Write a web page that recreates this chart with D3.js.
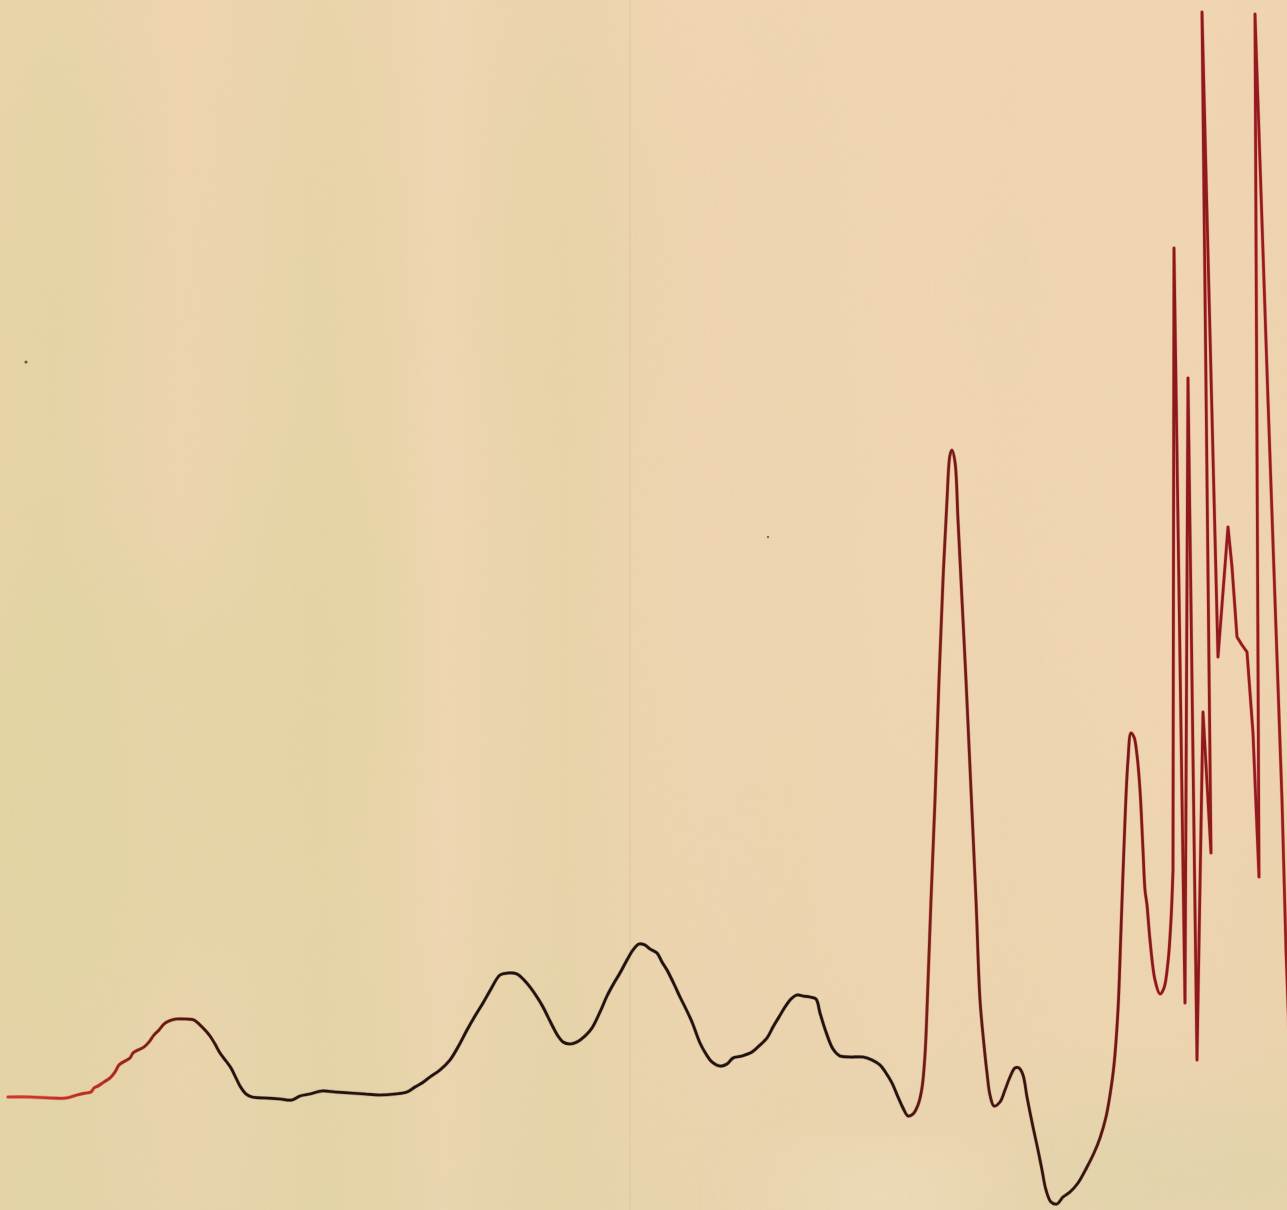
<!DOCTYPE html>
<html>
<head>
<meta charset="utf-8">
<script src="https://cdn.jsdelivr.net/npm/d3@7/dist/d3.min.js"></script>
<style>
  html, body { margin: 0; padding: 0; background: #ecd4ad; overflow: hidden; }
  svg { display: block; }
</style>
</head>
<body>
<svg id="chart"></svg>
<script>
// Recorder trace: elution time (min) and detector signal (chart divisions)
const time = [
  0.8, 3.0, 5.0, 6.6, 7.7, 8.6, 9.1, 9.4, 9.8, 10.4, 11.0, 11.5, 11.9, 12.5, 13.0, 13.3, 13.8, 14.4, 14.9, 15.4,
  15.9, 16.4, 16.9, 17.6, 18.6, 19.4, 20.0, 20.5, 21.0, 21.5, 22.0, 22.6, 23.1, 23.6, 24.0, 24.6, 25.2, 26.5, 28.0, 29.2,
  30.0, 31.0, 32.2, 33.5, 35.0, 36.5, 38.0, 39.5, 40.7, 41.5, 42.2, 43.0, 44.0, 45.0, 45.8, 46.7, 47.5, 48.3, 49.1, 50.0,
  50.8, 51.7, 52.4, 53.0, 53.7, 54.3, 54.8, 55.3, 55.8, 56.3, 57.0, 57.7, 58.5, 59.2, 60.0, 60.7, 61.4, 62.0, 62.7, 63.3,
  63.9, 64.5, 65.0, 65.7, 66.2, 66.7, 67.4, 68.0, 68.6, 69.2, 70.0, 70.6, 71.2, 72.0, 72.7, 73.3, 74.2, 75.2, 76.0, 76.7,
  77.3, 77.9, 78.5, 79.1, 79.7, 80.3, 81.0, 81.6, 82.0, 82.6, 83.3, 84.0, 85.0, 86.3, 87.2, 88.0, 88.6, 89.2, 89.8, 90.3,
  90.8, 91.3, 91.8, 92.2, 92.5, 92.7, 93.1, 93.5, 93.9, 94.3, 94.7, 95.0, 95.2, 95.5, 95.8, 96.2, 96.6, 97.1, 97.6, 98.0,
  98.4, 98.7, 99.0, 99.4, 100.0, 100.5, 101.0, 101.5, 101.9, 102.3, 102.7, 103.3, 103.8, 104.2, 104.6, 105.1, 105.7, 106.3, 107.0, 107.8,
  108.7, 109.4, 110.0, 110.6, 111.0, 111.4, 111.8, 112.1, 112.5, 112.8, 113.1, 113.4, 113.7, 114.0, 114.3, 114.5, 114.7, 115.0, 115.5, 116.0,
  116.4, 116.8, 117.1, 117.3, 117.4, 118.5, 118.8, 119.7, 120.3, 121.1, 120.2, 121.8, 122.8, 123.2, 123.7, 124.2, 124.7, 125.3, 125.9, 125.5,
  126.8, 128.2, 128.6, 129.0
];
const signal = [
  0, 0, -0.1, -0.1, 0.2, 0.4, 0.5, 0.9, 1.1, 1.5, 1.9, 2.5, 3.2, 3.6, 3.9, 4.4, 4.7, 5.0, 5.5, 6.2,
  6.7, 7.3, 7.6, 7.8, 7.8, 7.7, 7.2, 6.7, 6.1, 5.3, 4.4, 3.6, 2.9, 1.9, 1.1, 0.3, 0, -0.1, -0.2, -0.3,
  0.1, 0.3, 0.6, 0.5, 0.4, 0.3, 0.2, 0.3, 0.5, 1.0, 1.4, 2.0, 2.7, 3.7, 5.0, 6.7, 8.1, 9.4, 10.8, 12.2,
  12.4, 12.3, 11.7, 11.0, 10.0, 9.0, 8.0, 7.0, 6.1, 5.5, 5.3, 5.5, 6.1, 6.9, 8.5, 10.1, 11.4, 12.4, 13.7, 14.7,
  15.3, 15.2, 14.8, 14.4, 13.5, 12.7, 11.3, 10.0, 8.8, 7.5, 5.4, 4.3, 3.5, 3.1, 3.3, 3.9, 4.1, 4.5, 5.2, 5.9,
  7.0, 8.0, 9.0, 9.8, 10.2, 10.1, 10.0, 9.8, 8.4, 6.5, 4.8, 4.1, 4.0, 4.0, 3.7, 3.2, 2.4, 1.4, 0, -1.1,
  -1.9, -1.7, -0.8, 0.9, 4.2, 8.7, 19.7, 29.7, 41.7, 51.7, 59.7, 64.2, 64.7, 63.5, 57.7, 49.7, 41.7, 30.7, 19.7, 9.7,
  5.2, 2.4, 0.2, -0.9, -0.5, 0.7, 2.0, 2.9, 2.9, 2.2, 0, -3.0, -5.3, -7.3, -9.3, -10.5, -10.7, -10.0, -9.5, -8.6,
  -7.0, -5.6, -4.1, -2.0, 0.2, 3.2, 8.7, 16.7, 27.7, 33.7, 36.4, 36.0, 34.2, 30.7, 24.7, 20.7, 19.2, 15.7, 11.7, 10.3,
  10.9, 13.5, 17.7, 22.7, 84.9, 9.4, 71.9, 3.7, 38.5, 24.4, 108.5, 44.0, 57.0, 53.0, 46.0, 45.2, 44.5, 36.4, 22.0, 108.3,
  69.7, 29.7, 14.7, 3.7
];
// the fast pen excursions at the end of the run are drawn as straight strokes
const sharpFrom = 183;

const W = 1287, H = 1210;
const svg = d3.select("#chart").attr("width", W).attr("height", H);
const defs = svg.append("defs");

// ---- chart paper ----
const paperStreaks = [
  [0, "#e7d4a6"], [0.04, "#e5d4a5"], [0.09, "#e9d4aa"], [0.14, "#eed5ae"], [0.19, "#ead5ab"],
  [0.25, "#e6d4a6"], [0.3, "#ead5a9"], [0.345, "#f0d7b3"], [0.39, "#ebd5ac"], [0.44, "#e9d4a9"],
  [0.49, "#edd5ae"], [0.55, "#efd5b1"], [0.62, "#eed5b0"], [0.7, "#f0d6b3"], [0.78, "#efd5b1"],
  [0.86, "#f0d6b2"], [0.93, "#f1d5b3"], [1, "#eed4af"]
];
const streak = defs.append("linearGradient").attr("id", "streak")
  .attr("x1", 0).attr("x2", 1).attr("y1", 0).attr("y2", 0);
paperStreaks.forEach(([o, c]) => streak.append("stop").attr("offset", o).attr("stop-color", c));

const shade = defs.append("linearGradient").attr("id", "shade")
  .attr("x1", 0).attr("x2", 0).attr("y1", 0).attr("y2", 1);
shade.append("stop").attr("offset", 0).attr("stop-color", "#f3d6b4").attr("stop-opacity", 0.3);
shade.append("stop").attr("offset", 0.45).attr("stop-color", "#ecd3aa").attr("stop-opacity", 0);
shade.append("stop").attr("offset", 1).attr("stop-color", "#dcd3a6").attr("stop-opacity", 0.3);

const blur = defs.append("filter").attr("id", "soft").attr("x", "-50%").attr("y", "-50%")
  .attr("width", "200%").attr("height", "200%");
blur.append("feGaussianBlur").attr("stdDeviation", 40);

const grain = defs.append("filter").attr("id", "grain");
grain.append("feTurbulence").attr("type", "fractalNoise").attr("baseFrequency", "0.9 0.06")
  .attr("numOctaves", 2).attr("seed", 4).attr("result", "n");
grain.append("feColorMatrix").attr("type", "matrix")
  .attr("values", "0 0 0 0 0.55  0 0 0 0 0.5  0 0 0 0 0.35  0 0 0 0.06 0");

const paper = svg.append("g");
paper.append("rect").attr("width", W).attr("height", H).attr("fill", "url(#streak)");
paper.append("rect").attr("width", W).attr("height", H).attr("fill", "url(#shade)");

// mottled patches in the paper
const patches = [
  [120, 780, 170, 220, "#ded59f", 0.4],
  [320, 640, 120, 180, "#e2d5a3", 0.3],
  [560, 250, 90, 200, "#e5d4a5", 0.25],
  [1180, 1170, 160, 60, "#d8d3a6", 0.45],
  [880, 1195, 110, 30, "#f4e3c6", 0.6],
  [1000, 300, 150, 200, "#f2d6b6", 0.3],
  [60, 200, 70, 180, "#e2d4a3", 0.3]
];
paper.selectAll("ellipse").data(patches).join("ellipse")
  .attr("cx", d => d[0]).attr("cy", d => d[1]).attr("rx", d => d[2]).attr("ry", d => d[3])
  .attr("fill", d => d[4]).attr("opacity", d => d[5]).attr("filter", "url(#soft)");
paper.append("rect").attr("width", W).attr("height", H).attr("filter", "url(#grain)");

// faint time rule on the chart paper
paper.append("line").attr("x1", 630).attr("x2", 630).attr("y1", 0).attr("y2", H)
  .attr("stroke", "#cdb994").attr("stroke-width", 1).attr("opacity", 0.5);

// small specks
paper.append("circle").attr("cx", 26).attr("cy", 362).attr("r", 1.6).attr("fill", "#6b5a45");
paper.append("circle").attr("cx", 768).attr("cy", 537).attr("r", 1.2).attr("fill", "#7a6a55");

// ---- trace ----
const x = d3.scaleLinear().domain([0, 128.7]).range([0, W]);
const y = d3.scaleLinear().domain([0, 100]).range([1097, 97]);

const points = time.map((t, i) => [t, signal[i]]);
const smoothPart = points.slice(0, sharpFrom + 1);
const sharpPart = points.slice(sharpFrom);
const smoothLine = d3.line().x(d => x(d[0])).y(d => y(d[1])).curve(d3.curveCatmullRom.alpha(0.5));
const sharpLine = d3.line().x(d => x(d[0])).y(d => y(d[1])).curve(d3.curveLinear);
const pathD = smoothLine(smoothPart) + sharpLine(sharpPart).replace(/^M/, "L");

const ink = defs.append("linearGradient").attr("id", "ink")
  .attr("gradientUnits", "userSpaceOnUse")
  .attr("x1", 0).attr("x2", W).attr("y1", 0).attr("y2", 0);
[
  [0, "#cf3a2e"], [100, "#b92c24"], [160, "#6a1c14"], [230, "#1f1310"],
  [900, "#1d1310"], [928, "#7a1e18"], [975, "#6a1c16"], [1000, "#361712"],
  [1080, "#2a1511"], [1115, "#6e1a16"], [1150, "#861a1a"], [W, "#971c20"]
].forEach(([o, c]) => ink.append("stop").attr("offset", o / W).attr("stop-color", c));

const fringe = defs.append("linearGradient").attr("id", "fringe")
  .attr("gradientUnits", "userSpaceOnUse")
  .attr("x1", 0).attr("x2", W).attr("y1", 0).attr("y2", 0);
[
  [0, "#e0402f"], [200, "#b8402e"], [260, "#6a3a2a"], [900, "#6a3a2a"],
  [930, "#d8383a"], [1000, "#c0483a"], [1080, "#9a4a38"], [1120, "#e04044"], [W, "#e4444a"]
].forEach(([o, c]) => fringe.append("stop").attr("offset", o / W).attr("stop-color", c));

svg.append("path")
  .attr("d", pathD)
  .attr("fill", "none")
  .attr("stroke", "url(#fringe)")
  .attr("stroke-width", 3.8)
  .attr("stroke-opacity", 0.4)
  .attr("stroke-linejoin", "round")
  .attr("stroke-linecap", "round");

svg.append("path")
  .attr("d", pathD)
  .attr("fill", "none")
  .attr("stroke", "url(#ink)")
  .attr("stroke-width", 2.7)
  .attr("stroke-linejoin", "round")
  .attr("stroke-linecap", "round");
</script>
</body>
</html>
